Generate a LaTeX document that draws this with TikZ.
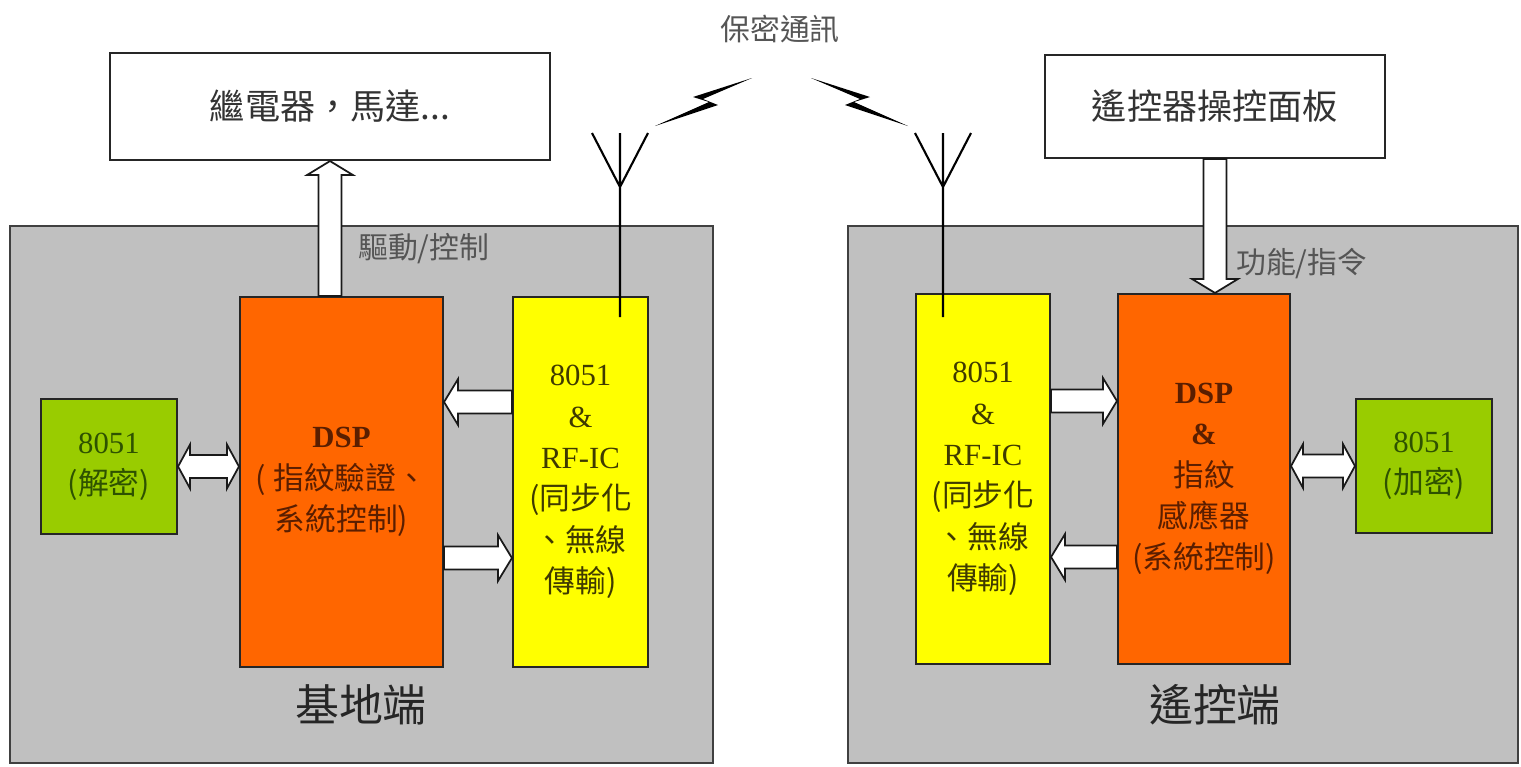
\documentclass[tikz,border=0pt]{standalone}
\usepackage{fontspec}
\setmainfont{Liberation Serif}
\newfontfamily\cjk{Noto Sans CJK TC}
\usetikzlibrary{calc}
\definecolor{panelgray}{HTML}{C0C0C0}
\definecolor{dsporange}{HTML}{FF6600}
\definecolor{rfyellow}{HTML}{FFFF00}
\definecolor{encgreen}{HTML}{99CC00}
\definecolor{dsptext}{HTML}{5A1E00}
\definecolor{rftext}{HTML}{3F3A00}
\definecolor{enctext}{HTML}{2E5200}
\definecolor{labelgray}{HTML}{555555}
\tikzset{
  blk/.style={draw=black!85, line width=1.2pt, inner sep=0pt, align=center,
    font=\fontsize{17.5}{23.5}\selectfont},
  size/.style 2 args={minimum width=#1, minimum height=#2},
  panel/.style={blk, fill=panelgray, draw=black!75},
  topbox/.style={blk, fill=white, text=black!80, font=\cjk\fontsize{20}{24}\selectfont},
  dspbox/.style={blk, fill=dsporange, text=dsptext},
  rfbox/.style={blk, fill=rfyellow, text=rftext},
  encbox/.style={blk, fill=encgreen, text=enctext},
  graylabel/.style={text=labelgray, font=\cjk\fontsize{17}{20}\selectfont},
  sidelabel/.style={text=black!85, font=\cjk\fontsize{25}{28}\selectfont},
  fatline/.style={draw=black!90, fill=white, line width=1pt, line join=miter}
}
\newcommand\fatarrow[2]{%
  \path (#1) coordinate (fa-a) (#2) coordinate (fa-b)
    ($(fa-b)!2.8mm!(fa-a)$) coordinate (fa-n);
  \path[fatline] ($(fa-a)!2.3mm!90:(fa-b)$) -- ($(fa-n)!2.3mm!90:(fa-b)$)
    -- ($(fa-n)!4.6mm!90:(fa-b)$) -- (fa-b) -- ($(fa-n)!4.6mm!-90:(fa-b)$)
    -- ($(fa-n)!2.3mm!-90:(fa-b)$) -- ($(fa-a)!2.3mm!-90:(fa-b)$) -- cycle;}
\newcommand\fatdarrow[2]{%
  \path (#1) coordinate (fa-a) (#2) coordinate (fa-b)
    ($(fa-a)!2.4mm!(fa-b)$) coordinate (fa-m) ($(fa-b)!2.4mm!(fa-a)$) coordinate (fa-n);
  \path[fatline] (fa-a) -- ($(fa-m)!4.4mm!90:(fa-b)$) -- ($(fa-m)!2.3mm!90:(fa-b)$)
    -- ($(fa-n)!2.3mm!90:(fa-b)$) -- ($(fa-n)!4.4mm!90:(fa-b)$) -- (fa-b)
    -- ($(fa-n)!4.4mm!-90:(fa-b)$) -- ($(fa-n)!2.3mm!-90:(fa-b)$)
    -- ($(fa-m)!2.3mm!-90:(fa-b)$) -- ($(fa-m)!4.4mm!-90:(fa-b)$) -- cycle;}
\begin{document}
\begin{tikzpicture}[x=0.2mm, y=-0.2mm]
  \useasboundingbox (0,0) rectangle (1521,767);

  \node[panel, size={140.6mm}{107.4mm}] (baseP) at (361.5,494.5) {};
  \node[panel, size={134mm}{107.4mm}] (remoteP) at (1183,494.5) {};

  \node[topbox, size={88mm}{21.4mm}] (relayB) at (330,106.5) {繼電器，馬達...};
  \node[topbox, size={68mm}{20.6mm}] (keypadR) at (1215,106.5) {遙控器操控面板};

  \node[dspbox, size={40.6mm}{74mm}] (dspB) at (341.5,482)
    {{\bfseries DSP}\\{\cjk ( 指紋驗證、}\\{\cjk 系統控制)}};
  \node[rfbox, size={27mm}{74mm}] (rfB) at (580.5,482)
    {8051\\\&\\RF-IC\\{\cjk (同步化}\\{\cjk 、無線}\\{\cjk 傳輸)}};
  \node[encbox, size={27.2mm}{27mm}] (decB) at (109,466.5) {8051\\{\cjk (解密)}};

  \node[rfbox, size={26.8mm}{74mm}] (rfR) at (983,479)
    {8051\\\&\\RF-IC\\{\cjk (同步化}\\{\cjk 、無線}\\{\cjk 傳輸)}};
  \node[dspbox, size={34.4mm}{74mm}] (dspR) at (1204,479)
    {{\bfseries DSP}\\{\bfseries\&}\\{\cjk 指紋}\\{\cjk 感應器}\\{\cjk (系統控制)}};
  \node[encbox, size={27.2mm}{26.8mm}] (encR) at (1424,466) {8051\\{\cjk (加密)}};

  \node[sidelabel] (baseL) at (361,705) {基地端};
  \node[sidelabel] (remoteL) at (1215,705) {遙控端};
  \node[graylabel, anchor=west] (driveL) at (352,249) {驅動/控制};
  \node[graylabel, anchor=west] (cmdL) at (1230,264) {功能/指令};
  \node[graylabel] (linkL) at (780,29) {保密通訊};

  \fatarrow{relayB.south |- dspB.north}{relayB.south}
  \fatarrow{[yshift=16mm]rfB.west}{[yshift=16mm]dspB.east}
  \fatarrow{[yshift=-15.2mm]dspB.east}{[yshift=-15.2mm]rfB.west}
  \fatdarrow{decB.east}{dspB.west |- decB.east}

  \fatarrow{keypadR.south}{keypadR.south |- dspR.north}
  \fatarrow{[yshift=15.6mm]rfR.east}{[yshift=15.6mm]dspR.west}
  \fatarrow{[yshift=-15.6mm]dspR.west}{[yshift=-15.6mm]rfR.east}
  \fatdarrow{dspR.east |- encR.west}{encR.west}

  \foreach \ax in {620,943}
    \path[draw, line width=1.2pt] (\ax,317) -- (\ax,133)
      (\ax-28,133) -- (\ax,187) -- (\ax+28,133);

  \path[fill=black] (655,126) -- (718,105) -- (703,99) -- (752,78)
    -- (693,97) -- (709,102) -- cycle;
  \path[fill=black] (908,126) -- (845,105) -- (860,99) -- (811,78)
    -- (870,97) -- (854,102) -- cycle;
\end{tikzpicture}
\end{document}
